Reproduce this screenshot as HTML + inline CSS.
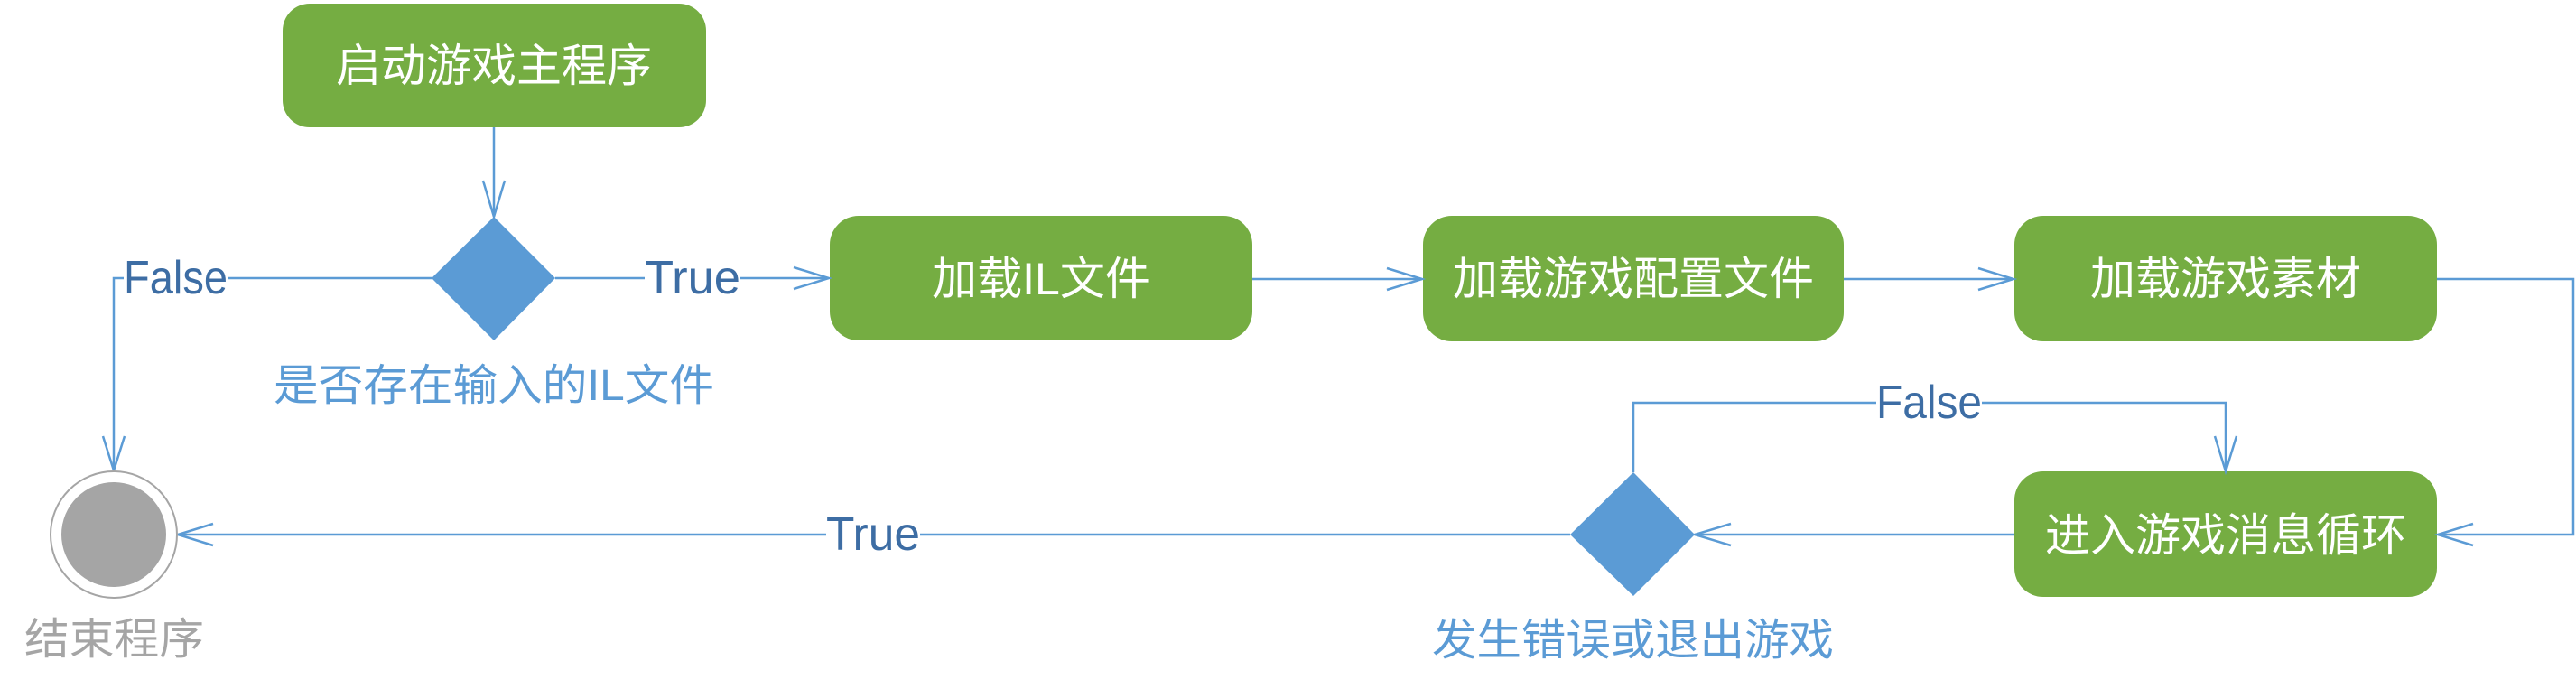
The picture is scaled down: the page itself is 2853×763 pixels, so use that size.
<!DOCTYPE html>
<html><head><meta charset="utf-8"><style>
html,body{margin:0;padding:0;background:#fff;}
svg{display:block;}
text{font-family:"Liberation Sans","Noto Sans CJK SC",sans-serif;}
</style></head><body>
<svg width="2853" height="763" viewBox="0 0 2853 763" xmlns="http://www.w3.org/2000/svg">
<g fill="#75ad42">
<rect x="313" y="4" width="469" height="137" rx="30"/>
<rect x="919" y="239" width="468" height="138" rx="32"/>
<rect x="1576" y="239" width="466" height="139" rx="32"/>
<rect x="2231" y="239" width="468" height="139" rx="32"/>
<rect x="2231" y="522" width="468" height="139" rx="32"/>
</g>
<g fill="#fff" font-size="50" text-anchor="middle">
<text x="547" y="90">启动游戏主程序</text>
<text x="1153" y="326">加载IL文件</text>
<text x="1809" y="326">加载游戏配置文件</text>
<text x="2465" y="326">加载游戏素材</text>
<text x="2465" y="610">进入游戏消息循环</text>
</g>
<g fill="#5b9bd5">
<polygon points="547,240 615,308 547,377 478,308"/>
<polygon points="1809,523 1877,592 1809,660 1739,592"/>
</g>
<g stroke="#5b9bd5" stroke-width="2.5" fill="none">
<line x1="547" y1="141" x2="547" y2="240"/>
<polyline points="535,200 547,240 559,200"/>
<line x1="615" y1="308" x2="714" y2="308"/>
<line x1="820" y1="308" x2="918" y2="308"/>
<polyline points="879,296 918,308 879,320"/>
<line x1="478" y1="308" x2="252" y2="308"/>
<polyline points="137,308 126,308 126,521"/>
<polyline points="114,483 126,521 138,483"/>
<line x1="1387" y1="309" x2="1575" y2="309"/>
<polyline points="1536,297 1575,309 1536,321"/>
<line x1="2042" y1="309" x2="2230" y2="309"/>
<polyline points="2191,297 2230,309 2191,321"/>
<polyline points="2699,309 2850,309 2850,592 2700,592"/>
<polyline points="2739,580 2700,592 2739,604"/>
<line x1="2231" y1="592" x2="1877" y2="592"/>
<polyline points="1917,580 1877,592 1917,604"/>
<polyline points="1809,523 1809,446 2078,446"/>
<polyline points="2195,446 2465,446 2465,522"/>
<polyline points="2453,483 2465,522 2477,483"/>
<line x1="1739" y1="592" x2="1019" y2="592"/>
<line x1="915" y1="592" x2="197" y2="592"/>
<polyline points="236,580 197,592 236,604"/>
</g>
<circle cx="126" cy="592" r="70" fill="#fff" stroke="#a5a5a5" stroke-width="2"/>
<circle cx="126" cy="592" r="58" fill="#a5a5a5"/>
<g fill="#3d6da4" font-size="52">
<text x="137" y="325" textLength="115" lengthAdjust="spacingAndGlyphs">False</text>
<text x="714" y="325" textLength="106" lengthAdjust="spacingAndGlyphs">True</text>
<text x="915" y="609" textLength="104" lengthAdjust="spacingAndGlyphs">True</text>
<text x="2078" y="463" textLength="117" lengthAdjust="spacingAndGlyphs">False</text>
</g>
<g fill="#5b9bd5" font-size="48">
<text x="303" y="443" textLength="488" lengthAdjust="spacingAndGlyphs">是否存在输入的IL文件</text>
<text x="1586" y="725" textLength="445" lengthAdjust="spacingAndGlyphs">发生错误或退出游戏</text>
</g>
<text x="27" y="724" fill="#a5a5a5" font-size="48" textLength="199" lengthAdjust="spacingAndGlyphs">结束程序</text>
</svg>
</body></html>
